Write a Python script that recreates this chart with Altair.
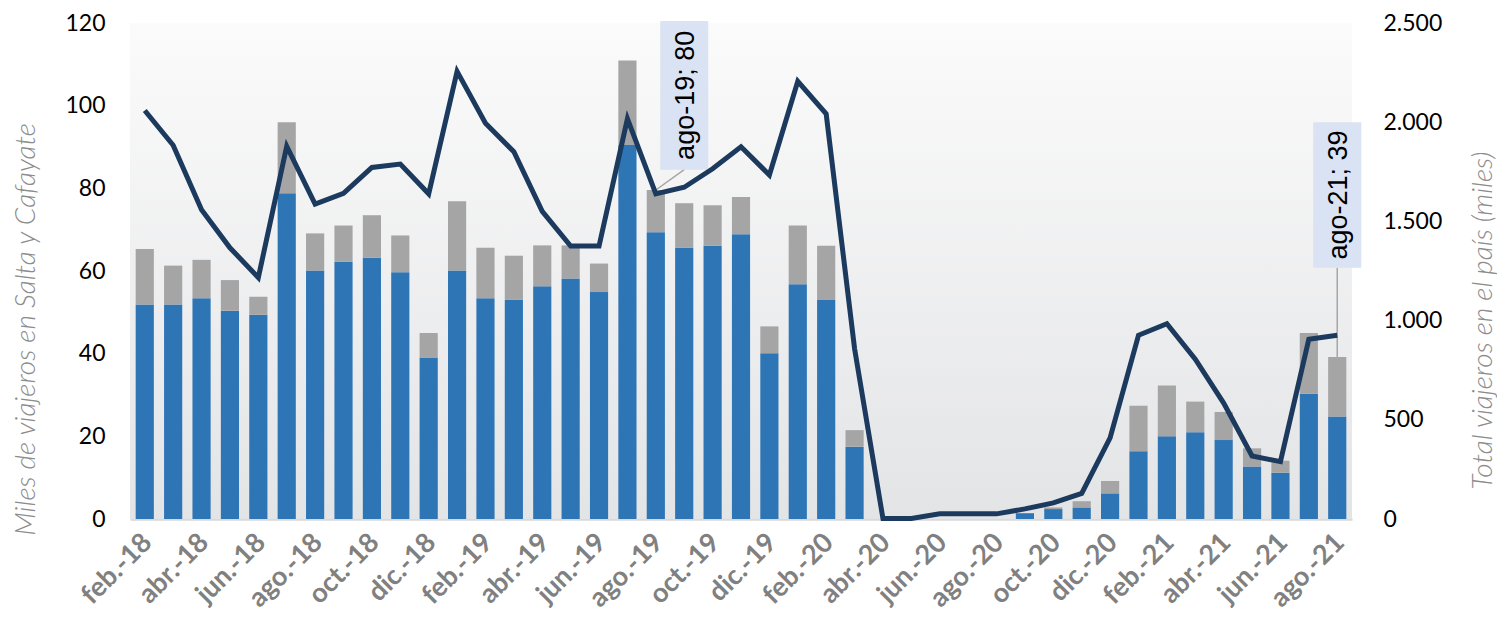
import altair as alt
import pandas as pd

months = [
    "feb.-18", "mar.-18", "abr.-18", "may.-18", "jun.-18", "jul.-18", "ago.-18", "sep.-18",
    "oct.-18", "nov.-18", "dic.-18", "ene.-19", "feb.-19", "mar.-19", "abr.-19", "may.-19",
    "jun.-19", "jul.-19", "ago.-19", "sep.-19", "oct.-19", "nov.-19", "dic.-19", "ene.-20",
    "feb.-20", "mar.-20", "abr.-20", "may.-20", "jun.-20", "jul.-20", "ago.-20", "sep.-20",
    "oct.-20", "nov.-20", "dic.-20", "ene.-21", "feb.-21", "mar.-21", "abr.-21", "may.-21",
    "jun.-21", "jul.-21", "ago.-21",
]
# Miles de viajeros (Salta, azul)
salta = [
    51.9, 51.9, 53.4, 50.4, 49.4, 78.8, 60.1, 62.2, 63.2, 59.7, 39.1, 60.1, 53.4, 53.0,
    56.3, 58.2, 54.9, 90.5, 69.4, 65.6, 66.1, 68.9, 40.1, 56.8, 53.0, 17.5, 0, 0, 0, 0,
    0, 1.4, 2.4, 2.8, 6.2, 16.4, 20.0, 21.0, 19.1, 12.7, 11.2, 30.3, 24.8,
]
# Miles de viajeros (Cafayate, gris)
cafayate = [
    13.4, 9.4, 9.3, 7.4, 4.4, 17.2, 9.0, 8.8, 10.3, 8.9, 5.9, 16.8, 12.2, 10.7,
    9.9, 8.0, 6.9, 20.4, 10.2, 10.8, 9.8, 9.0, 6.5, 14.2, 13.1, 4.0, 0, 0, 0, 0,
    0, 0.0, 0.4, 1.5, 3.0, 11.0, 12.3, 7.4, 6.8, 4.4, 2.9, 14.7, 14.4,
]
# Total viajeros en el país (miles)
total_pais = [
    2059, 1884, 1559, 1367, 1217, 1879, 1587, 1642, 1772, 1789, 1639, 2256, 1995, 1851,
    1551, 1376, 1376, 2018, 1639, 1672, 1765, 1876, 1734, 2206, 2042, 859, 2, 3, 26, 26,
    26, 51, 81, 129, 409, 926, 984, 806, 584, 318, 289, 906, 926,
]
label_months = months[::2]
left_ticks = [0, 20, 40, 60, 80, 100, 120]
right_ticks = [0, 500, 1000, 1500, 2000, 2500]

ann_labels = ["ago-19; 80", "ago-21; 39"]
ann_box_month = ["sep.-19", "ago.-21"]
ann_point_month = ["ago.-19", "ago.-21"]
ann_point_value = [79.6, 39.2]
ann_box_low = [84.5, 60.8]
ann_box_high = [120.5, 96.0]
ann_text_y = [102.5, 78.4]

W, H = 1222, 496

rows = []
for i, m in enumerate(months):
    rows.append({"mes": m, "serie": "Salta", "orden": 0, "valor": salta[i]})
    rows.append({"mes": m, "serie": "Cafayate", "orden": 1, "valor": cafayate[i]})
bars_df = pd.DataFrame(rows)
line_df = pd.DataFrame({"mes": months, "total": total_pais})
box_df = pd.DataFrame({"mes": ann_box_month, "low": ann_box_low, "high": ann_box_high,
                       "ty": ann_text_y, "label": ann_labels})
rule_df = pd.DataFrame({"mes": ann_point_month, "mes2": ann_box_month,
                        "pt": ann_point_value, "low": ann_box_low})

xscale = alt.Scale(domain=months, paddingInner=0.36, paddingOuter=0.2)
yscale = alt.Scale(domain=[0, 120])

x_axis = alt.Axis(
    values=label_months, labelAngle=-45, labelAlign="right", labelBaseline="middle",
    labelFont="Lato", labelFontWeight="bold", labelFontSize=27, labelColor="#808080",
    labelPadding=19, labelOffset=3, ticks=False, domainColor="#d9d9d9", domainWidth=2.5,
    title=None, grid=False, labelOverlap=False,
)

bg = alt.Chart(alt.Data(values=[{"a": 1}])).mark_rect(
    fill=alt.Gradient(
        gradient="linear",
        stops=[alt.GradientStop(color="#fbfbfb", offset=0),
               alt.GradientStop(color="#e3e4e6", offset=1)],
        x1=0, x2=0, y1=0, y2=1,
    )
).encode(x=alt.value(0), x2=alt.value(W), y=alt.value(0), y2=alt.value(H))

bars = alt.Chart(bars_df).mark_bar().encode(
    x=alt.X("mes:N", sort=months, scale=xscale, axis=x_axis),
    y=alt.Y(
        "valor:Q", stack="zero", scale=yscale,
        axis=alt.Axis(
            values=left_ticks, grid=False, domain=False, ticks=False,
            labelFont="Lato", labelFontSize=23, labelColor="black", labelPadding=25,
            title="Miles de viajeros en Salta y Cafayate", titleFont="Lato",
            titleFontStyle="italic", titleFontWeight=300, titleFontSize=28,
            titleColor="#8c8c8c", titleAngle=270, titleX=-104, titleY=306,
            titleAlign="center", titleBaseline="middle",
        ),
    ),
    color=alt.Color("serie:N", scale=alt.Scale(domain=["Salta", "Cafayate"],
                                               range=["#2e75b6", "#a5a5a5"]), legend=None),
    order=alt.Order("orden:Q"),
)

rules = alt.Chart(rule_df).mark_rule(color="#a6a6a6", strokeWidth=1.5).encode(
    x=alt.X("mes:N", sort=months, scale=xscale),
    x2="mes2:N",
    y=alt.Y("pt:Q", scale=yscale),
    y2="low:Q",
)

boxes = alt.Chart(box_df).mark_bar(width=48, color="#dae3f3").encode(
    x=alt.X("mes:N", sort=months, scale=xscale),
    y=alt.Y("low:Q", scale=yscale),
    y2="high:Q",
)

texts = alt.Chart(box_df).mark_text(
    angle=270, font="Liberation Sans", fontSize=27, color="black",
    align="center", baseline="middle", dy=2,
).encode(
    x=alt.X("mes:N", sort=months, scale=xscale),
    y=alt.Y("ty:Q", scale=yscale),
    text="label:N",
)

left = alt.layer(bg, bars, rules, boxes, texts)

line = alt.Chart(line_df).mark_line(color="#1b3a5e", strokeWidth=5, strokeJoin="miter").encode(
    x=alt.X("mes:N", sort=months, scale=xscale),
    y=alt.Y(
        "total:Q", scale=alt.Scale(domain=[0, 2500]),
        axis=alt.Axis(
            orient="right", values=right_ticks, grid=False, domain=False, ticks=False,
            labelExpr="replace(format(datum.value, ','), ',', '.')",
            labelFont="Lato", labelFontSize=23, labelColor="black", labelPadding=31,
            title="Total viajeros en el país (miles)", titleFont="Lato",
            titleFontStyle="italic", titleFontWeight=300, titleFontSize=28,
            titleColor="#8c8c8c", titleAngle=270, titleX=131, titleY=297,
            titleAlign="center", titleBaseline="middle",
        ),
    ),
)

chart = alt.layer(left, line).resolve_scale(y="independent").properties(
    width=W, height=H,
    padding={"left": 122, "top": 15, "right": 145, "bottom": 98},
    autosize=alt.AutoSizeParams(type="none"),
).configure_view(stroke=None)

chart.save("out.html", embed_options={"renderer": "svg", "actions": False})
